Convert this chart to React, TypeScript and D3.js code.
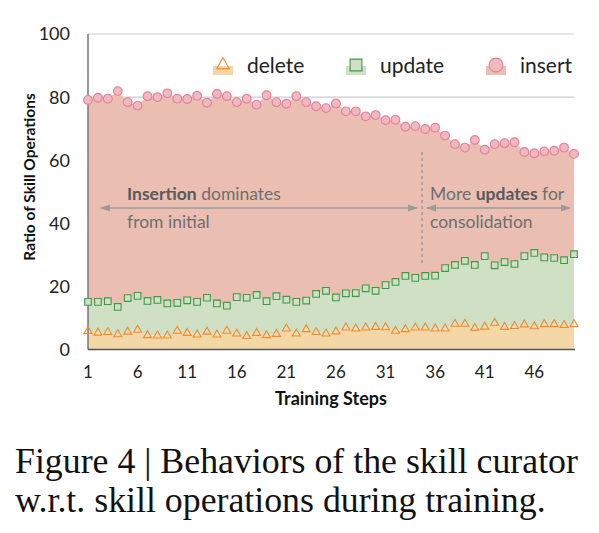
import { useMemo } from "react";
import * as d3 from "d3";

// share of each skill operation per training step (stacked bottom → top)
const STEPS = d3.range(1, 51);
const DELETE = [5.8, 5.3, 5.5, 4.8, 5.6, 6.2, 4.5, 4.4, 4.4, 5.9, 5.2, 4.7, 5.6, 4.7, 5.9, 5.0, 4.2, 5.2, 4.5, 4.9, 6.6, 5.0, 6.4, 5.5, 5.0, 5.7, 6.9, 6.6, 6.9, 7.1, 7.0, 5.9, 6.4, 6.9, 6.9, 6.6, 6.6, 8.1, 8.1, 6.8, 7.2, 8.4, 7.1, 7.4, 7.9, 7.3, 8.0, 8.0, 7.7, 8.0];
const UPDATE = [9.3, 9.8, 9.8, 8.7, 10.7, 10.8, 10.9, 11.3, 10.2, 8.9, 10.4, 10.4, 10.8, 9.9, 8.0, 11.6, 12.2, 12.1, 10.8, 12.0, 9.2, 10.1, 9.1, 12.1, 13.6, 10.8, 10.9, 11.3, 12.5, 11.5, 13.4, 15.5, 16.9, 15.8, 16.4, 16.8, 19.2, 18.7, 20.0, 20.0, 22.4, 18.3, 20.6, 19.7, 21.7, 23.3, 21.2, 21.0, 20.6, 22.2];
const INSERT = [64.0, 64.7, 64.2, 68.4, 62.1, 60.3, 64.9, 64.3, 66.6, 64.7, 63.8, 65.3, 61.8, 66.4, 66.4, 61.8, 63.1, 60.3, 65.3, 61.5, 62.1, 65.2, 62.9, 59.5, 57.9, 61.5, 57.7, 57.6, 54.5, 55.7, 52.3, 51.4, 47.3, 48.1, 46.6, 46.9, 42.0, 38.3, 35.9, 39.6, 33.7, 38.4, 37.7, 38.6, 33.0, 31.6, 33.6, 34.0, 35.7, 31.8];

const SERIES = ["delete", "update", "insert"] as const;
const Y_TICKS = [0, 20, 40, 60, 80, 100];
const X_TICKS = [1, 6, 11, 16, 21, 26, 31, 36, 41, 46];

const STYLE = {
  delete: { area: "#f4d7a7", fill: "none", stroke: "#f28b2c", symbol: d3.symbolTriangle, size: 28, legendSize: 70 },
  update: { area: "#cfe0c5", fill: "#cfe0c5", stroke: "#3d9a45", symbol: d3.symbolSquare, size: 44, legendSize: 140 },
  insert: { area: "#eabfb2", fill: "#f0b9c0", stroke: "#e47f99", symbol: d3.symbolCircle, size: 60, legendSize: 150 },
};

const LEGEND_X = { delete: 223, update: 356, insert: 496 };

const W = 599;
const H = 533;
const FONT = "Lato, 'Open Sans', sans-serif";

export default function App() {
  const x = d3.scaleLinear().domain([1, 50]).range([88, 574]);
  const y = d3.scaleLinear().domain([0, 100]).range([349.5, 34]);

  const stacked = useMemo(() => {
    const rows = STEPS.map((s, i) => ({ step: s, delete: DELETE[i], update: UPDATE[i], insert: INSERT[i] }));
    return d3.stack<any>().keys(SERIES as unknown as string[])(rows);
  }, []);

  const area = d3
    .area<d3.SeriesPoint<any>>()
    .x((d) => x(d.data.step))
    .y0((d) => y(d[0]))
    .y1((d) => y(d[1]));

  const arrowY = 208;
  const splitX = 422;

  return (
    <svg width={W} height={H} style={{ position: "absolute", left: 0, top: 0, background: "#fff" }} fontFamily={FONT}>
      <defs>
        <marker id="ah" viewBox="0 0 10 10" refX="9" refY="5" markerWidth="7" markerHeight="7" orient="auto-start-reverse">
          <path d="M0,1.5 L10,5 L0,8.5 z" fill="#9a9a9a" />
        </marker>
      </defs>

      {/* grid */}
      {Y_TICKS.filter((t) => t > 0).map((t) => (
        <line key={t} x1={x(1)} x2={x(50)} y1={y(t)} y2={y(t)} stroke="#cccccc" strokeWidth={1.2} />
      ))}

      {/* stacked areas */}
      {stacked.map((s) => (
        <path key={s.key} d={area(s) ?? ""} fill={STYLE[s.key as keyof typeof STYLE].area} />
      ))}

      {/* axes */}
      <line x1={x(1)} x2={x(1)} y1={y(100)} y2={y(0)} stroke="#777" strokeWidth={1.5} />
      <line x1={x(1)} x2={x(50) + 1} y1={y(0)} y2={y(0)} stroke="#555" strokeWidth={1.5} />
      {Y_TICKS.map((t) => (
        <text key={t} x={70} y={y(t)} dy="0.36em" textAnchor="end" fontSize={18} fill="#222">
          {t}
        </text>
      ))}
      {X_TICKS.map((t) => (
        <text key={t} x={x(t)} y={378} textAnchor="middle" fontSize={17} fill="#222">
          {t}
        </text>
      ))}
      <text x={331} y={405} textAnchor="middle" fontSize={18} fontWeight="bold" fill="#111">
        Training Steps
      </text>
      <text transform={`translate(35,177) rotate(-90)`} textAnchor="middle" fontSize={15.5} fontWeight="bold" fill="#111">
        Ratio of Skill Operations
      </text>

      {/* phase annotations */}
      <line x1={splitX} x2={splitX} y1={152} y2={264} stroke="#9a9a9a" strokeWidth={1.5} strokeDasharray="3,3" />
      <line x1={101} x2={417} y1={arrowY} y2={arrowY} stroke="#9a9a9a" strokeWidth={1.5} markerStart="url(#ah)" markerEnd="url(#ah)" />
      <line x1={427} x2={570} y1={arrowY} y2={arrowY} stroke="#9a9a9a" strokeWidth={1.5} markerStart="url(#ah)" markerEnd="url(#ah)" />
      <g fontSize={17.5} fill="#6e6e6e">
        <text x={127} y={200}>
          <tspan fontWeight="bold" fill="#5a5a5a">Insertion</tspan> dominates
        </text>
        <text x={127} y={228}>from initial</text>
        <text x={430} y={200}>
          More <tspan fontWeight="bold" fill="#5a5a5a">updates</tspan> for
        </text>
        <text x={430} y={228}>consolidation</text>
      </g>

      {/* markers */}
      {stacked.map((s) => {
        const st = STYLE[s.key as keyof typeof STYLE];
        const sym = d3.symbol(st.symbol, st.size)() ?? "";
        return (
          <g key={s.key}>
            {s.map((d, i) => (
              <path
                key={i}
                d={sym}
                transform={`translate(${x(d.data.step)},${y(d[1])})`}
                fill={st.fill}
                stroke={st.stroke}
                strokeWidth={1.1}
              />
            ))}
          </g>
        );
      })}

      {/* legend */}
      {SERIES.map((k) => {
        const st = STYLE[k];
        const cx = LEGEND_X[k];
        return (
          <g key={k}>
            <rect x={cx - 10} y={66} width={20} height={9} fill={st.area} />
            <path d={d3.symbol(st.symbol, st.legendSize)() ?? ""} transform={`translate(${cx},65)`} fill={st.fill} stroke={st.stroke} strokeWidth={1.1} />
            <text x={cx + 24} y={66} dy="0.35em" fontSize={21} fill="#222">
              {k}
            </text>
          </g>
        );
      })}

      {/* caption */}
      <g fontFamily="'Liberation Serif', 'DejaVu Serif', serif" fontSize={35.8} fill="#111">
        <text x={15} y={473}>Figure 4 | Behaviors of the skill curator</text>
        <text x={15} y={512}>w.r.t. skill operations during training.</text>
      </g>
    </svg>
  );
}
